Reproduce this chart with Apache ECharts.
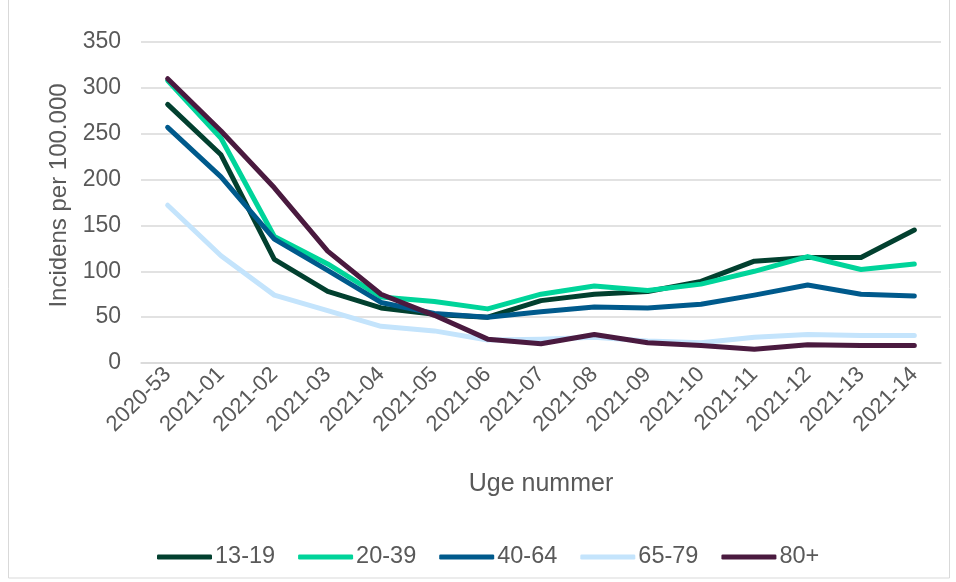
<!DOCTYPE html>
<html>
<head>
<meta charset="utf-8">
<script src="https://cdn.jsdelivr.net/npm/echarts@6/dist/echarts.min.js"></script>
<style>
  html, body { margin: 0; padding: 0; background: #fff; }
  #mycharts { width: 956px; height: 582px; }
</style>
</head>
<body>
<div id="mycharts"></div>
<script>
// uger
var weeks = ["2020-53", "2021-01", "2021-02", "2021-03", "2021-04", "2021-05", "2021-06", "2021-07",
  "2021-08", "2021-09", "2021-10", "2021-11", "2021-12", "2021-13", "2021-14"];
// incidens pr. aldersgruppe
var age13_19 = [282, 227, 113, 78, 60, 53, 50, 68, 75, 78, 89, 111, 115, 115, 145];
var age20_39 = [308, 245, 138, 108, 72, 67, 59, 75, 84, 79, 86, 100, 116, 102, 108];
var age40_64 = [257, 203, 135, 101, 66, 54, 50, 56, 61, 60, 64, 74, 85, 75, 73];
var age65_79 = [172, 117, 74, 57, 40, 35, 25, 26, 28, 24, 22, 28, 31, 30, 30];
var age80 = [310, 253, 191, 122, 75, 52, 26, 21, 31, 22, 19, 15, 20, 19, 19];
var yTicks = [0, 50, 100, 150, 200, 250, 300, 350];

var names = ["13-19", "20-39", "40-64", "65-79", "80+"];
var colors = ["#02402F", "#00D49A", "#005A8C", "#C4E4FC", "#4A1A3F"];
var values = [age13_19, age20_39, age40_64, age65_79, age80];

var mycharts = echarts.init(document.getElementById("mycharts"));

var series = names.map(function (n, i) {
  return {
    name: n,
    type: "line",
    data: values[i],
    symbol: "none",
    lineStyle: { width: 5, color: colors[i], cap: "round", join: "round" },
    itemStyle: { color: colors[i] }
  };
});

var option = {
  animation: false,
  textStyle: { fontFamily: "Liberation Sans", color: "#595959" },
  graphic: [{
    type: "rect",
    shape: { x: 8.5, y: -2, width: 941, height: 580 },
    style: { fill: "none", stroke: "#d9d9d9", lineWidth: 1 }
  }],
  grid: { left: 141, right: 15, top: 42, bottom: 219 },
  legend: {
    bottom: 8,
    left: 152,
    itemWidth: 55,
    itemHeight: 5,
    itemGap: 23,
    icon: "roundRect",
    textStyle: { fontSize: 23.5, color: "#595959", padding: [0, 0, 0, -2] },
    data: names
  },
  xAxis: {
    type: "category",
    data: weeks,
    boundaryGap: true,
    name: "Uge nummer",
    nameLocation: "middle",
    nameGap: 109,
    nameTextStyle: { fontSize: 25, color: "#595959" },
    axisLine: { show: true, lineStyle: { color: "#d9d9d9", width: 1.5 } },
    axisTick: { show: false },
    axisLabel: { rotate: 45, fontSize: 22, color: "#595959", margin: 8, interval: 0 }
  },
  yAxis: {
    type: "value",
    min: yTicks[0],
    max: yTicks[yTicks.length - 1],
    interval: 50,
    name: "Incidens per 100.000",
    nameLocation: "middle",
    nameGap: 69,
    nameTextStyle: { fontSize: 24, color: "#595959", padding: [0, 0, 0, 14] },
    axisLine: { show: false },
    axisTick: { show: false },
    axisLabel: { fontSize: 23, color: "#595959", margin: 20 },
    splitLine: { lineStyle: { color: "#d9d9d9", width: 1.5 } }
  },
  series: series
};
mycharts.setOption(option);
</script>
</body>
</html>
